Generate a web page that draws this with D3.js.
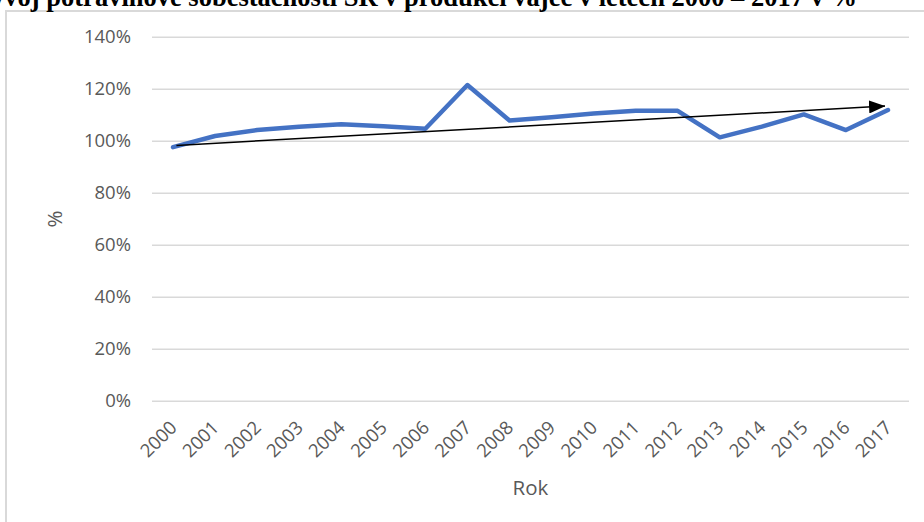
<!DOCTYPE html>
<html>
<head>
<meta charset="utf-8">
<script src="https://cdn.jsdelivr.net/npm/d3@7"></script>
<style>
  html, body { margin: 0; padding: 0; background: #fff; }
  svg { display: block; }
</style>
</head>
<body>
<svg id="chart" width="924" height="522"></svg>
<script>
// Egg production self-sufficiency of the Slovak Republic, 2000–2017 (%)
const years = ["2000","2001","2002","2003","2004","2005","2006","2007","2008",
               "2009","2010","2011","2012","2013","2014","2015","2016","2017"];
const selfSufficiency = [97.5, 101.8, 104.1, 105.4, 106.3, 105.6, 104.6, 121.4, 107.8,
                         109.0, 110.5, 111.5, 111.5, 101.3, 105.4, 110.1, 104.1, 111.8];
const yTicks = [0, 20, 40, 60, 80, 100, 120, 140];
// Hand-drawn trend arrow: start/end as (category position, value)
const trendFrom = [0.08, 98.2];
const trendTo = [16.93, 113.3];

const titleText = "Vývoj potravinové soběstačnosti SR v produkci vajec v letech 2000 – 2017 v %";
const xTitle = "Rok";
const yTitle = "%";

const svg = d3.select("#chart");
const plot = { left: 152, right: 909, top: 36.7, bottom: 400.7 };
const labelFont = "'Open Sans', 'Noto Sans', sans-serif";
const grey = "#595959";

// Chart frame
svg.append("rect")
  .attr("x", 6).attr("y", 11)
  .attr("width", 1000).attr("height", 600)
  .attr("fill", "#fff")
  .attr("stroke", "#d9d9d9").attr("stroke-width", 2);

// Title (runs past the top edge)
svg.append("text")
  .attr("x", 857).attr("y", 6)
  .attr("text-anchor", "end")
  .attr("font-family", "'Liberation Serif', 'Times New Roman', serif")
  .attr("font-weight", "bold")
  .attr("font-size", 26.5)
  .attr("fill", "#000")
  .text(titleText);

const x = d3.scaleBand().domain(years).range([plot.left, plot.right]).padding(0);
const xPos = i => plot.left + (i + 0.5) * x.bandwidth();
const y = d3.scaleLinear().domain([0, 140]).range([plot.bottom, plot.top]);

// Horizontal gridlines + y labels
const yAxis = d3.axisLeft(y)
  .tickValues(yTicks)
  .tickSize(-(plot.right - plot.left))
  .tickPadding(21)
  .tickFormat(d => d + "%");
const gy = svg.append("g")
  .attr("transform", `translate(${plot.left},0)`)
  .call(yAxis);
gy.select(".domain").remove();
gy.selectAll(".tick line").attr("stroke", "#d9d9d9").attr("stroke-width", 1.5);
gy.selectAll(".tick text")
  .attr("font-family", labelFont)
  .attr("font-size", 18.5)
  .attr("fill", grey);

// X labels, rotated
const xAxis = d3.axisBottom(x).tickSize(0).tickPadding(0);
const gx = svg.append("g")
  .attr("transform", `translate(0,${plot.bottom})`)
  .call(xAxis);
gx.select(".domain").remove();
gx.selectAll(".tick text")
  .attr("font-family", labelFont)
  .attr("font-size", 18.5)
  .attr("fill", grey)
  .attr("text-anchor", "end")
  .attr("dy", 0)
  .attr("y", 0)
  .attr("transform", "translate(5,28) rotate(-45)");

// Axis titles
svg.append("text")
  .attr("x", (plot.left + plot.right) / 2).attr("y", 495)
  .attr("text-anchor", "middle")
  .attr("font-family", labelFont)
  .attr("font-size", 20.5)
  .attr("fill", grey)
  .text(xTitle);

svg.append("text")
  .attr("transform", "translate(62,219) rotate(-90)")
  .attr("text-anchor", "middle")
  .attr("font-family", labelFont)
  .attr("font-size", 20.5)
  .attr("fill", grey)
  .text(yTitle);

// Data line
const line = d3.line()
  .x((d, i) => xPos(i))
  .y(d => y(d));
svg.append("path")
  .datum(selfSufficiency)
  .attr("d", line)
  .attr("fill", "none")
  .attr("stroke", "#4472C4")
  .attr("stroke-width", 4.5)
  .attr("stroke-linejoin", "round")
  .attr("stroke-linecap", "round");

// Trend arrow
const defs = svg.append("defs");
defs.append("marker")
  .attr("id", "arrowHead")
  .attr("viewBox", "0 0 16 13")
  .attr("refX", 16).attr("refY", 6.5)
  .attr("markerWidth", 16).attr("markerHeight", 13)
  .attr("markerUnits", "userSpaceOnUse")
  .attr("orient", "auto")
  .append("path")
  .attr("d", "M0,0 L16,6.5 L0,13 Z")
  .attr("fill", "#000");

svg.append("line")
  .attr("x1", xPos(trendFrom[0])).attr("y1", y(trendFrom[1]))
  .attr("x2", xPos(trendTo[0])).attr("y2", y(trendTo[1]))
  .attr("stroke", "#000")
  .attr("stroke-width", 1.5)
  .attr("marker-end", "url(#arrowHead)");
</script>
</body>
</html>
